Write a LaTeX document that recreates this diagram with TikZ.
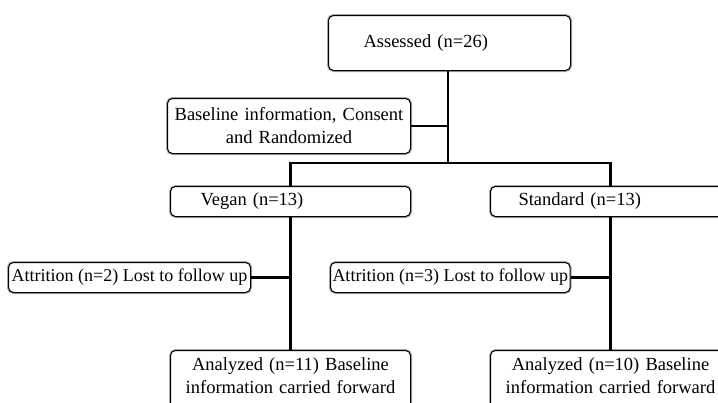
\documentclass[tikz,border=0pt]{standalone}
\usepackage{fontspec}
\setmainfont{Liberation Serif}
\begin{document}
\begin{tikzpicture}[x=1pt,y=-1pt,
  box/.style={draw=black, line width=1pt, rounded corners=5pt, fill=white,
    preaction={draw=black!35, line width=3pt},
    anchor=north west, font=\fontsize{18.5}{23}\selectfont, inner ysep=0pt},
  conn/.style={draw=black, line width=2.8pt}]
\useasboundingbox (0,0) rectangle (718,402);
\clip (0,0) rectangle (718,402);
\node[box, text width=172pt, inner xsep=35pt, align=left, minimum height=55pt] (assess) at (328,15) {Assessed (n=26)};
\node[box, text width=233pt, inner xsep=5pt, align=center, minimum height=55pt] (base) at (167,98) {Baseline information, Consent\\and Randomized};
\node[box, text width=180pt, inner xsep=30pt, align=left, minimum height=30pt] (vegan) at (170,186) {Vegan (n=13)};
\node[box, text width=184pt, inner xsep=28pt, align=left, minimum height=30pt] (std) at (490,186) {Standard (n=13)};
\node[box, minimum width=242pt, inner xsep=2pt, minimum height=30pt, font=\fontsize{18}{22}\selectfont] (att1) at (8,262) {Attrition (n=2) Lost to follow up};
\node[box, minimum width=238pt, inner xsep=2pt, minimum height=30pt, font=\fontsize{18}{22}\selectfont] (att2) at (330,262) {Attrition (n=3) Lost to follow up};
\node[box, text width=230pt, inner xsep=5pt, align=center, minimum height=62pt] (an1) at (170,350) {Analyzed (n=11) Baseline\\information carried forward\\[-11pt]\mbox{}};
\node[box, text width=230pt, inner xsep=5pt, align=center, minimum height=62pt] (an2) at (490,350) {Analyzed (n=10) Baseline\\information carried forward\\[-11pt]\mbox{}};
\coordinate (j) at (448,163);
\path[conn] (assess.south -| j) -- (j);
\path[conn] (base.east) -- (base.east -| j);
\path[conn] (vegan.north) |- (j) -| (std.north);
\path[conn] (vegan.south) -- (an1.north);
\path[conn] (std.south) -- (an2.north);
\path[conn] (att1.east) -- (att1.east -| vegan.south);
\path[conn] (att2.east) -- (att2.east -| std.south);
\end{tikzpicture}
\end{document}
